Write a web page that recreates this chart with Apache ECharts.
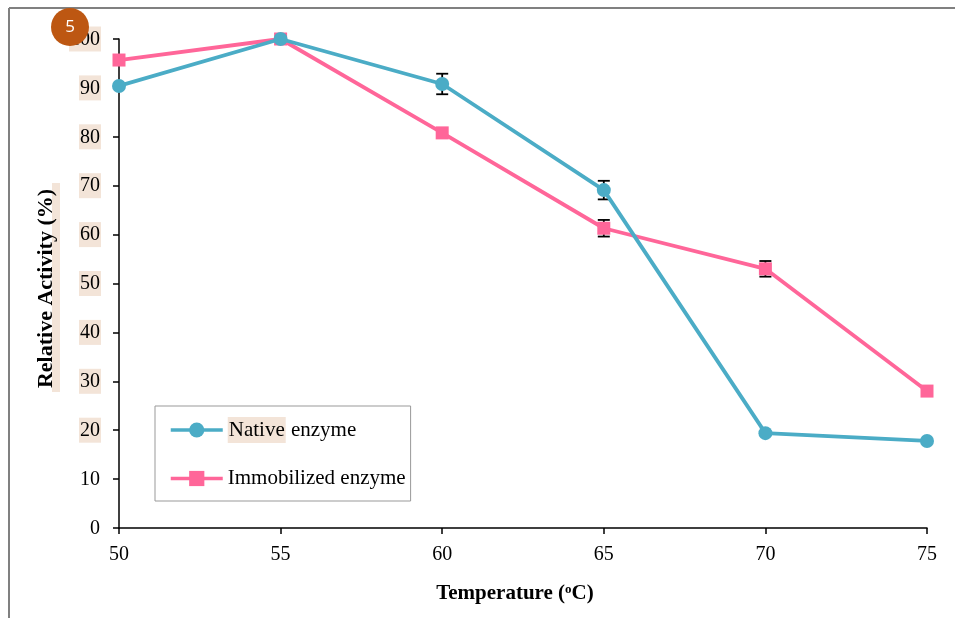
<!DOCTYPE html>
<html>
<head>
<meta charset="utf-8">
<script src="https://cdn.jsdelivr.net/npm/echarts@6/dist/echarts.min.js"></script>
<style>html,body{margin:0;padding:0;background:#fff;}#c{width:955px;height:618px;}</style>
</head>
<body>
<div id="c"></div>
<script>
var temperatures = [50, 55, 60, 65, 70, 75];
var nativeValues = [90.4, 100, 90.8, 69.1, 19.4, 17.8];
var nativeErrors = [0, 0, 2.1, 1.9, 0, 0];
var immobilizedValues = [95.7, 100, 80.8, 61.3, 53.0, 28.0];
var immobilizedErrors = [0, 0, 0, 1.7, 1.6, 0];
var yTicks = [0, 10, 20, 30, 40, 50, 60, 70, 80, 90, 100];
var xTicks = [50, 55, 60, 65, 70, 75];

var FONT = '"Liberation Serif", "Times New Roman", serif';
var BEIGE = '#f3e4d8';
var C_NATIVE = '#4bacc6';
var C_IMMOB = '#ff6699';

function pairs(xs, ys) { return xs.map(function (x, i) { return [x, ys[i]]; }); }
function errData(xs, ys, es) {
  var out = [];
  xs.forEach(function (x, i) { if (es[i] > 0) out.push([x, ys[i], es[i]]); });
  return out;
}
function errRender(params, api) {
  var x = api.value(0), y = api.value(1), e = api.value(2);
  var top = api.coord([x, y + e]);
  var bot = api.coord([x, y - e]);
  var w = 6;
  var st = { stroke: '#000', lineWidth: 1.8 };
  return {
    type: 'group',
    children: [
      { type: 'line', shape: { x1: top[0], y1: top[1], x2: bot[0], y2: bot[1] }, style: st },
      { type: 'line', shape: { x1: top[0] - w, y1: top[1], x2: top[0] + w, y2: top[1] }, style: st },
      { type: 'line', shape: { x1: bot[0] - w, y1: bot[1], x2: bot[0] + w, y2: bot[1] }, style: st }
    ]
  };
}

var chart = echarts.init(document.getElementById('c'), null, { renderer: 'canvas' });
chart.setOption({
  animation: false,
  backgroundColor: '#fff',
  grid: { left: 119, right: 28, top: 39, bottom: 90, containLabel: false },
  xAxis: {
    type: 'value', min: xTicks[0], max: xTicks[xTicks.length - 1], interval: 5,
    splitLine: { show: false },
    axisLine: { show: true, lineStyle: { color: '#000', width: 1.5 } },
    axisTick: { show: true, length: 6, lineStyle: { color: '#000', width: 1.5 } },
    axisLabel: { color: '#000', fontFamily: FONT, fontSize: 20, margin: 17 },
    name: 'Temperature ({sup|o}C)',
    nameLocation: 'middle', nameGap: 55,
    nameTextStyle: {
      color: '#000', fontFamily: FONT, fontSize: 21, fontWeight: 'bold', padding: [0, 16, 0, 0],
      rich: { sup: { fontFamily: FONT, fontSize: 13, fontWeight: 'bold', color: '#000', verticalAlign: 'top', padding: [0, 0, 9, 0] } }
    }
  },
  yAxis: {
    type: 'value', min: 0, max: 100, interval: 10,
    splitLine: { show: false },
    axisLine: { show: true, lineStyle: { color: '#000', width: 1.5 } },
    axisTick: { show: true, length: 6, lineStyle: { color: '#000', width: 1.5 } },
    axisLabel: {
      color: '#000', fontFamily: FONT, fontSize: 20, margin: 18,
      formatter: function (v) { return v >= 20 ? '{hl|' + v + '}' : '{n|' + v + '}'; },
      rich: {
        hl: { backgroundColor: BEIGE, padding: [3, 1, 2, 1], fontFamily: FONT, fontSize: 20, color: '#000' },
        n: { padding: [3, 1, 2, 1], fontFamily: FONT, fontSize: 20, color: '#000' }
      }
    },
    name: 'Relative Activity (%)',
    nameLocation: 'middle', nameGap: 62, nameRotate: 90,
    nameTextStyle: { color: '#000', fontFamily: FONT, fontSize: 22, fontWeight: 'bold', padding: [0, 10, 0, 0] }
  },
  legend: {
    orient: 'vertical', left: 155, top: 406,
    padding: [11, 5, 12, 14],
    borderColor: '#999', borderWidth: 1,
    itemWidth: 52, itemHeight: 19, itemGap: 25,
    lineStyle: { width: 3.5 },
    data: ['Native enzyme', 'Immobilized enzyme'],
    formatter: function (n) { return n === 'Native enzyme' ? '{hl|Native} enzyme' : n; },
    textStyle: {
      color: '#000', fontFamily: FONT, fontSize: 21,
      rich: { hl: { backgroundColor: BEIGE, padding: [3, 1, 2, 1], fontFamily: FONT, fontSize: 21, color: '#000' } }
    }
  },
  series: [
    {
      name: 'Native enzyme', type: 'line', data: pairs(temperatures, nativeValues),
      symbol: 'circle', symbolSize: 14, z: 3,
      lineStyle: { color: C_NATIVE, width: 3.8 }, itemStyle: { color: C_NATIVE }
    },
    {
      name: 'Immobilized enzyme', type: 'line', data: pairs(temperatures, immobilizedValues),
      symbol: 'rect', symbolSize: 13, z: 2,
      lineStyle: { color: C_IMMOB, width: 3.8 }, itemStyle: { color: C_IMMOB }
    },
    {
      type: 'custom', name: 'nativeErr', data: errData(temperatures, nativeValues, nativeErrors),
      renderItem: errRender, z: 1, silent: true
    },
    {
      type: 'custom', name: 'immobErr', data: errData(temperatures, immobilizedValues, immobilizedErrors),
      renderItem: errRender, z: 1, silent: true
    }
  ],
  graphic: [
    { type: 'line', shape: { x1: 9, y1: 8, x2: 955, y2: 8 }, style: { stroke: '#808080', lineWidth: 2 }, silent: true },
    { type: 'line', shape: { x1: 9, y1: 8, x2: 9, y2: 618 }, style: { stroke: '#808080', lineWidth: 2 }, silent: true },
    { type: 'rect', shape: { x: 52, y: 183, width: 8, height: 209 }, style: { fill: BEIGE }, z: -10, silent: true },
    { type: 'circle', shape: { cx: 70, cy: 27, r: 19 }, style: { fill: '#bd5712' }, z: 100, silent: true },
    { type: 'text', x: 70, y: 27, z: 101, silent: true,
      style: { text: '5', fill: '#fff', font: '17px "Open Sans", "DejaVu Sans", sans-serif', textAlign: 'center', textVerticalAlign: 'middle' } }
  ]
});
</script>
</body>
</html>
